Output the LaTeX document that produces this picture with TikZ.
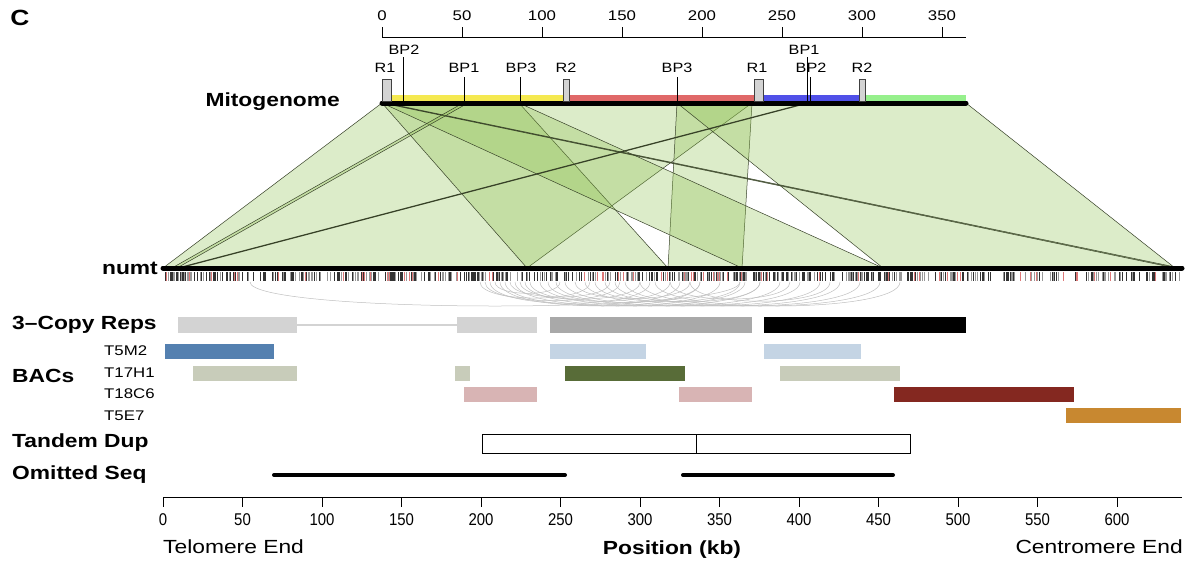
\documentclass[tikz,border=0pt]{standalone}
\usepackage{fontspec}
\setmainfont{Liberation Sans}[FakeStretch=1.2]
\newfontfamily\narrowfont{Liberation Sans}[FakeStretch=0.88]
\definecolor{hitgreen}{RGB}{140,191,77}
\definecolor{edgegray}{RGB}{55,65,40}
\definecolor{mitoyellow}{RGB}{245,233,80}
\definecolor{mitored}{RGB}{224,104,104}
\definecolor{mitoblue}{RGB}{80,80,232}
\definecolor{mitogreen}{RGB}{150,240,140}
\definecolor{repA}{RGB}{211,211,211}
\definecolor{repB}{RGB}{169,169,169}
\definecolor{bacblue}{RGB}{84,128,176}
\definecolor{bacpale}{RGB}{196,212,228}
\definecolor{bacsage}{RGB}{200,204,186}
\definecolor{bacolive}{RGB}{88,108,56}
\definecolor{bacpink}{RGB}{216,180,180}
\definecolor{bacred}{RGB}{132,40,32}
\definecolor{bacorange}{RGB}{200,136,48}
\definecolor{tickred}{RGB}{222,120,120}
\begin{document}
\begin{tikzpicture}[x=1pt,y=-1pt,
    hit/.style={fill=hitgreen, fill opacity=0.3, draw=edgegray, line width=0.5pt, line join=round},
    track/.style={font=\fontsize{19}{20}\selectfont\bfseries, anchor=west, inner sep=0pt},
    baclab/.style={font=\fontsize{14}{15}\selectfont, anchor=west, inner sep=0pt},
    mitolab/.style={font=\fontsize{13.5}{14}\selectfont, inner sep=0pt},
    ticklab/.style={font=\fontsize{14}{15}\selectfont, inner sep=0pt},
    kblab/.style={font=\narrowfont\fontsize{17}{18}\selectfont, inner sep=0pt},
    endlab/.style={font=\fontsize{19}{20}\selectfont, inner sep=0pt},
    axisline/.style={draw=black, line width=0.9pt},
    bpline/.style={draw=black, line width=0.6pt},
    rbox/.style={fill=repA, draw=black!75, line width=0.5pt},
    arcline/.style={draw=black!25, line width=0.5pt},
    omit/.style={line width=4pt, line cap=round}
]
\useasboundingbox (0,0) rectangle (1200,566);

\node[font=\fontsize{22}{24}\selectfont\bfseries, inner sep=0pt] (panel) at (20,18) {C};

% mitogenome scale
\draw[axisline] (382,37) -- (966,37);
\foreach \v in {0,50,...,350}{
  \draw[axisline] ({382+1.6*\v},37) -- ({382+1.6*\v},27);
  \node[ticklab] (m\v) at ({382+1.6*\v},16) {\v};
}

% mitogenome segments
\fill[mitoyellow] (391,95) rectangle (563,101);
\fill[mitored] (569,95) rectangle (754,101);
\fill[mitoblue] (763,95) rectangle (859,101);
\fill[mitogreen] (865,95) rectangle (966,101);

% alignments mitogenome -> numt
\draw[hit] (382,103) -- (752,103) -- (527,268) -- (163,268) -- cycle;
\draw[hit] (382,103) -- (519,103) -- (668,268) -- (527,268) -- cycle;
\draw[hit] (677,103) -- (752,103) -- (742,268) -- (668,268) -- cycle;
\draw[hit] (382,103) -- (519,103) -- (883,268) -- (742,268) -- cycle;
\draw[hit] (677,103) -- (966,103) -- (1175,268) -- (883,268) -- cycle;
\draw[hit] (382,103) -- (386,103) -- (1180,268) -- (1175,268) -- cycle;
\draw[hit] (463,103) -- (468,103) -- (177,268) -- (172,268) -- cycle;
\draw[hit] (806,103) -- (809,103) -- (180,268) -- (177,268) -- cycle;

\draw[line width=5pt, line cap=round] (382,103) -- (966,103);
\node[track, anchor=east] (mito) at (340,102) {Mitogenome};

% repeats and breakpoints
\draw[rbox] (382,79) rectangle (391,101);
\draw[rbox] (563,79) rectangle (569,101);
\draw[rbox] (754,79) rectangle (763,101);
\draw[rbox] (859,79) rectangle (865,101);
\draw[bpline] (403,57) -- (403,101);
\draw[bpline] (464,77) -- (464,101);
\draw[bpline] (520,77) -- (520,101);
\draw[bpline] (677,77) -- (677,101);
\draw[bpline] (807,57) -- (807,101);
\draw[bpline] (810,77) -- (810,101);
\node[mitolab] (r1a) at (385,68) {R1};
\node[mitolab] (bp2a) at (404,50) {BP2};
\node[mitolab] (bp1a) at (464,68) {BP1};
\node[mitolab] (bp3a) at (521,68) {BP3};
\node[mitolab] (r2a) at (566,68) {R2};
\node[mitolab] (bp3b) at (677,68) {BP3};
\node[mitolab] (r1b) at (757,68) {R1};
\node[mitolab] (bp1b) at (804,50) {BP1};
\node[mitolab] (bp2b) at (811,68) {BP2};
\node[mitolab] (r2b) at (862,68) {R2};

% numt
\pgfmathsetseed{11}
\foreach \k in {1,...,380}{
  \pgfmathsetmacro\tx{165+1015*rnd}
  \draw[black!80, line width=0.7pt] (\tx,272) -- (\tx,281);
}
\foreach \k in {1,...,220}{
  \pgfmathsetmacro\tx{165+1015*rnd}
  \draw[black!40, line width=0.7pt] (\tx,272) -- (\tx,281);
}
\foreach \k in {1,...,60}{
  \pgfmathsetmacro\tx{165+1015*rnd}
  \draw[tickred, line width=0.7pt] (\tx,272) -- (\tx,281);
}
\foreach \a/\b in {250/740, 480/590, 485/620, 490/650, 495/560, 500/680, 505/700,
    510/610, 515/720, 520/640, 525/745, 530/670, 540/760, 548/700, 556/780, 565/800,
    575/690, 585/820, 595/740, 605/840, 615/760, 625/860, 640/880, 655/900, 670/790, 690/830}{
  \pgfmathsetmacro\d{min(32,0.14*(\b-\a)+6)}
  \draw[arcline] (\a,282) .. controls (\a,282+\d) and (\b,282+\d) .. (\b,282);
}
\draw[line width=5pt, line cap=round] (163,268) -- (1182,268);
\node[track, anchor=east] (numt) at (158,268) {numt};

% 3-copy repeats
\node[track] (reps) at (12,325) {3–Copy Reps};
\draw[repA, line width=2pt] (297,325) -- (457,325);
\fill[repA] (178,317) rectangle (297,333);
\fill[repA] (457,317) rectangle (537,333);
\fill[repB] (550,317) rectangle (752,333);
\fill[black] (764,317) rectangle (966,333);

% BACs
\node[track] (bacs) at (12,376) {BACs};
\node[baclab] (t5m2) at (104,351) {T5M2};
\node[baclab] (t17h1) at (104,373) {T17H1};
\node[baclab] (t18c6) at (104,394) {T18C6};
\node[baclab] (t5e7) at (104,416) {T5E7};
\fill[bacblue] (165,344) rectangle (274,359);
\fill[bacpale] (550,344) rectangle (646,359);
\fill[bacpale] (764,344) rectangle (861,359);
\fill[bacsage] (193,366) rectangle (297,381);
\fill[bacsage] (455,366) rectangle (470,381);
\fill[bacolive] (565,366) rectangle (685,381);
\fill[bacsage] (780,366) rectangle (900,381);
\fill[bacpink] (464,387) rectangle (537,402);
\fill[bacpink] (679,387) rectangle (752,402);
\fill[bacred] (894,387) rectangle (1074,402);
\fill[bacorange] (1066,408) rectangle (1181,423);

% tandem duplication and omitted sequence
\node[track] (tdup) at (12,443) {Tandem Dup};
\draw[black, line width=0.9pt] (482,434) rectangle (910,453);
\draw[black, line width=0.9pt] (696,434) -- (696,453);
\node[track] (omit) at (12,475) {Omitted Seq};
\draw[omit] (274,475) -- (565,475);
\draw[omit] (683,475) -- (893,475);

% numt scale
\draw[axisline] (163,497) -- (1182,497);
\foreach \v in {0,50,...,600}{
  \draw[axisline] ({163+1.59*\v},497) -- ({163+1.59*\v},507);
  \node[kblab] (n\v) at ({163+1.59*\v},520) {\v};
}
\node[endlab, anchor=west] (telo) at (163,547) {Telomere End};
\node[endlab, font=\fontsize{19}{20}\selectfont\bfseries] (pos) at (672,550) {Position (kb)};
\node[endlab, anchor=east] (centro) at (1183,547) {Centromere End};
\end{tikzpicture}
\end{document}
